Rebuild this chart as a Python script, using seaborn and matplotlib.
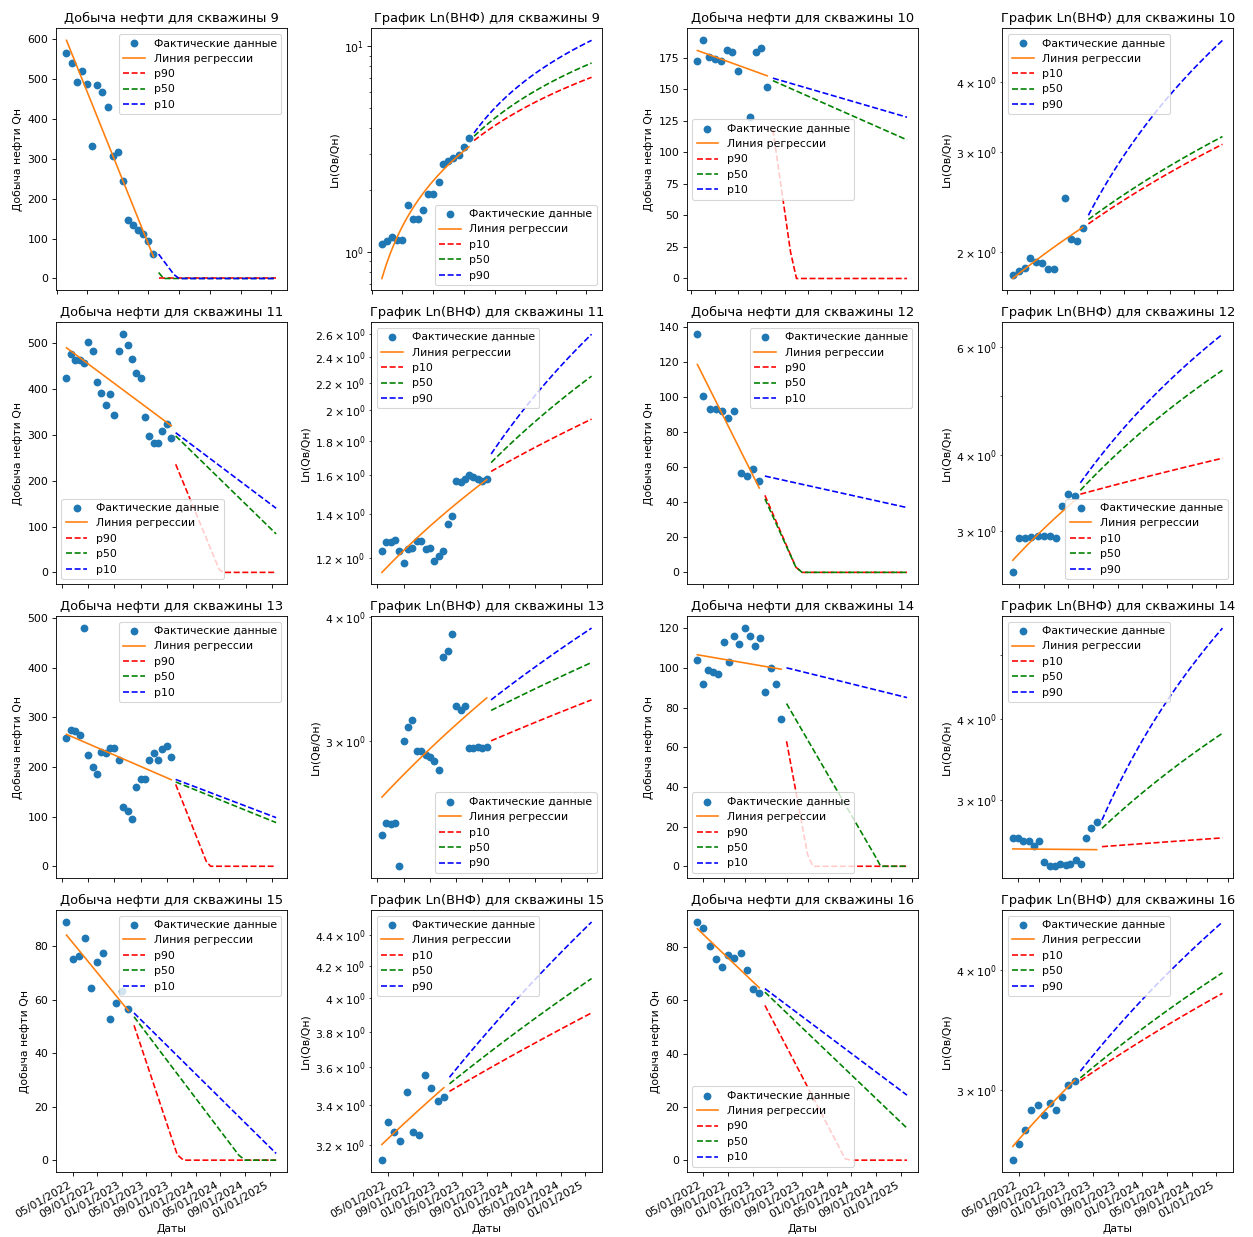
import numpy as np
import pandas as pd
import matplotlib
matplotlib.use("Agg")
import matplotlib.pyplot as plt
import matplotlib.dates as mdates
import seaborn as sns

NAN = np.nan

# ---------------- well 9 ----------------
start_09 = "2022-03-01"
oil_09 = [566, 541, 493, 520, 488, 331, 485, 468, 430, 306, 317, 245, 147, 134, 122, 111, 94, 61]
wor_09 = [1.086, 1.127, 1.18, 1.136, 1.136, 1.69, 1.44, 1.45, 1.59, 1.91, 1.91, 2.19, 2.66, 2.76, 2.86, 2.95, 3.23, 3.56]
oil_p90_09 = [(18, 0), (41, 0)]
oil_p50_09 = [(18, 15), (19, 0), (41, 0)]
oil_p10_09 = [(18, 61), (21, 10), (22, 0), (41, 0)]
wor_p10_09 = [3.48, 7.07]
wor_p50_09 = [3.65, 8.3]
wor_p90_09 = [3.79, 10.7]

# ---------------- well 10 ----------------
start_10 = "2022-06-01"
oil_10 = [173, 189, 176, 174, 173, 181, 180, 165, NAN, 128, 180, 183, 152]
wor_10 = [1.82, 1.85, 1.87, 1.95, 1.92, 1.91, 1.86, 1.86, NAN, 2.49, 2.11, 2.09, 2.20]
oil_p90_10 = [(13, 118), (16, 21), (17, 0), (36, 0)]
oil_p50_10 = [(13, 157), (36, 110)]
oil_p10_10 = [(13, 159), (36, 128)]
wor_p10_10 = [2.24, 3.10]
wor_p50_10 = [2.28, 3.20]
wor_p90_10 = [2.32, 4.74]

# ---------------- well 11 ----------------
start_11 = "2021-08-01"
oil_11 = [425, 476, 463, 463, 458, 504, 483, 416, 392, 366, 389, 344, 483, 520, 496, 467,
          435, 425, 339, 297, 283, 283, 309, 323, 293]
wor_11 = [1.23, 1.27, 1.27, 1.28, 1.23, 1.18, 1.24, 1.245, 1.275, 1.275, 1.24, 1.245, 1.19,
          1.21, 1.23, 1.35, 1.39, 1.57, 1.56, 1.58, 1.60, 1.59, 1.58, 1.57, 1.58]
oil_p90_11 = [(25, 236), (35, 6), (36, 0), (48, 0)]
oil_p50_11 = [(25, 298), (48, 84)]
oil_p10_11 = [(25, 305), (48, 140)]
wor_p10_11 = [1.62, 1.94]
wor_p50_11 = [1.67, 2.25]
wor_p90_11 = [1.72, 2.60]

# ---------------- well 12 ----------------
start_12 = "2022-04-01"
oil_12 = [136, 101, 93.5, 93.5, 92, 88, 92, 57, 55, 59, 52]
wor_12 = [2.57, 2.92, 2.93, 2.94, 2.95, 2.95, 2.95, 2.93, 3.30, 3.45, 3.42]
oil_p90_12 = [(11, 44), (16, 3), (17, 0), (34, 0)]
oil_p50_12 = [(11, 42), (16, 3), (17, 0), (34, 0)]
oil_p10_12 = [(11, 55), (34, 37)]
wor_p10_12 = [3.45, 3.95]
wor_p50_12 = [3.50, 5.50]
wor_p90_12 = [3.60, 6.30]

# ---------------- well 13 ----------------
start_13 = "2021-08-01"
oil_13 = [258, 275, 272, 265, 480, 225, 200, 185, 230, 228, 238, 238, 215, 120, 112, 96,
          160, 175, 175, 215, 228, 215, 237, 243, 220]
wor_13 = [2.41, 2.48, 2.47, 2.48, 2.24, 3.00, 3.10, 3.15, 2.93, 2.93, 2.90, 2.89, 2.86,
          2.80, 3.65, 3.70, 3.85, 3.25, 3.22, 3.25, 2.95, 2.95, 2.96, 2.95, 2.96]
oil_p90_13 = [(25, 165), (32, 10), (33, 0), (48, 0)]
oil_p50_13 = [(25, 170), (48, 88)]
oil_p10_13 = [(25, 175), (48, 98)]
wor_p10_13 = [3.00, 3.30]
wor_p50_13 = [3.22, 3.60]
wor_p90_13 = [3.30, 3.90]

# ---------------- well 14 ----------------
start_14 = "2022-04-01"
oil_14 = [104, 92, 99, 98, 97, 113, 103, 116, 112, 120, 116, 111, 115, 88, 100, 92, 74]
wor_14 = [2.63, 2.63, 2.60, 2.60, 2.56, 2.60, 2.42, 2.38, 2.38, 2.40, 2.39, 2.40, 2.43,
          2.40, 2.63, 2.72, 2.78]
oil_p90_14 = [(17, 63), (21, 6), (22, 0), (40, 0)]
oil_p50_14 = [(17, 82), (34, 4.5), (35, 0), (40, 0)]
oil_p10_14 = [(17, 100), (40, 85)]
wor_p10_14 = [2.55, 2.63]
wor_p50_14 = [2.72, 3.80]
wor_p90_14 = [2.80, 5.50]

# ---------------- well 15 ----------------
start_15 = "2022-04-01"
oil_15 = [89, 75.1, 76.4, 83.2, 64.2, 73.9, 77.3, 52.6, 58.9, 63.3, 56.4]
wor_15 = [3.125, 3.31, 3.26, 3.215, 3.465, 3.26, 3.245, 3.56, 3.49, 3.42, 3.44]
oil_p90_15 = [(11, 50.4), (18, 2), (19, 0), (34, 0)]
oil_p50_15 = [(11, 53.6), (28, 1.8), (29, 0), (34, 0)]
oil_p10_15 = [(11, 55), (34, 2.5)]
wor_p10_15 = [3.47, 3.91]
wor_p50_15 = [3.51, 4.12]
wor_p90_15 = [3.545, 4.49]

# ---------------- well 16 ----------------
start_16 = "2022-04-01"
oil_16 = [89.4, 87.3, 80.3, 75.4, 72.5, 77.1, 75.75, 77.9, 71.25, 64.4, 62.75]
wor_16 = [2.54, 2.64, 2.73, 2.86, 2.90, 2.83, 2.91, 2.865, 2.95, 3.04, 3.07]
oil_p90_16 = [(11, 58.1), (24, 0.5), (25, 0), (34, 0)]
oil_p50_16 = [(11, 63.1), (34, 12)]
oil_p10_16 = [(11, 64.4), (34, 24.4)]
wor_p10_16 = [3.07, 3.78]
wor_p50_16 = [3.09, 3.97]
wor_p90_16 = [3.14, 4.48]

WELLS = [
    (9, start_09, oil_09, wor_09, oil_p90_09, oil_p50_09, oil_p10_09, wor_p10_09, wor_p50_09, wor_p90_09),
    (10, start_10, oil_10, wor_10, oil_p90_10, oil_p50_10, oil_p10_10, wor_p10_10, wor_p50_10, wor_p90_10),
    (11, start_11, oil_11, wor_11, oil_p90_11, oil_p50_11, oil_p10_11, wor_p10_11, wor_p50_11, wor_p90_11),
    (12, start_12, oil_12, wor_12, oil_p90_12, oil_p50_12, oil_p10_12, wor_p10_12, wor_p50_12, wor_p90_12),
    (13, start_13, oil_13, wor_13, oil_p90_13, oil_p50_13, oil_p10_13, wor_p10_13, wor_p50_13, wor_p90_13),
    (14, start_14, oil_14, wor_14, oil_p90_14, oil_p50_14, oil_p10_14, wor_p10_14, wor_p50_14, wor_p90_14),
    (15, start_15, oil_15, wor_15, oil_p90_15, oil_p50_15, oil_p10_15, wor_p10_15, wor_p50_15, wor_p90_15),
    (16, start_16, oil_16, wor_16, oil_p90_16, oil_p50_16, oil_p10_16, wor_p10_16, wor_p50_16, wor_p90_16),
]

# legend positions (style)
OIL_LOC = ["upper right", "center left", "lower left", "upper right",
           "upper right", "lower left", "upper right", "lower left"]
WOR_LOC = ["lower right", "upper left", "upper left", "lower right",
           "lower right", "upper left", "upper left", "upper left"]

BLUE = "#1f77b4"
ORANGE = "#ff7f0e"
W, H, DPI = 1253, 1237, 78
MS = 52


def month_dates(start, months):
    base = pd.Timestamp(start)
    return mdates.date2num([base + pd.DateOffset(months=int(m)) for m in months])


def finish_legend(ax, loc):
    handles = [ax.collections[0]] + list(ax.get_lines())
    labels = [h.get_label() for h in handles]
    ax.legend(handles, labels, loc=loc)


fig, axes = plt.subplots(4, 4, figsize=(W / DPI, H / DPI), dpi=DPI)

for i, (well, start, oil, wor, o90, o50, o10, w10, w50, w90) in enumerate(WELLS):
    r, c = divmod(i, 2)
    ax_o = axes[r, 2 * c]
    ax_w = axes[r, 2 * c + 1]
    n = len(oil)
    x_obs = month_dates(start, range(n))
    x_fc = month_dates(start, [n, n + 23])

    # ---- oil production ----
    sns.scatterplot(x=x_obs, y=np.array(oil, float), ax=ax_o, color=BLUE, s=MS,
                    linewidth=0, label="Фактические данные", legend=False)
    sns.regplot(x=x_obs, y=np.array(oil, float), ax=ax_o, scatter=False, ci=None,
                color=ORANGE, label="Линия регрессии", line_kws=dict(lw=1.5))
    for fc, col, lab in [(o90, "r", "p90"), (o50, "g", "p50"), (o10, "b", "p10")]:
        sns.lineplot(x=month_dates(start, [m for m, v in fc]), y=[v for m, v in fc],
                     ax=ax_o, color=col, linestyle="--", lw=1.5, label=lab,
                     errorbar=None, sort=False, legend=False)
    ax_o.set_title(f"Добыча нефти для скважины {well}")
    ax_o.set_ylabel("Добыча нефти Qн")
    finish_legend(ax_o, OIL_LOC[i])

    # ---- water-oil ratio ----
    sns.scatterplot(x=x_obs, y=np.array(wor, float), ax=ax_w, color=BLUE, s=MS,
                    linewidth=0, label="Фактические данные", legend=False)
    sns.regplot(x=x_obs, y=np.array(wor, float), ax=ax_w, scatter=False, ci=None,
                color=ORANGE, label="Линия регрессии", line_kws=dict(lw=1.5))
    for fc, col, lab in [(w10, "r", "p10"), (w50, "g", "p50"), (w90, "b", "p90")]:
        sns.regplot(x=x_fc, y=np.array(fc, float), ax=ax_w, scatter=False, ci=None,
                    color=col, label=lab, line_kws=dict(lw=1.5, ls="--"))
    ax_w.set_yscale("log")
    ax_w.set_title(f"График Ln(ВНФ) для скважины {well}")
    ax_w.set_ylabel("Ln(Qв/Qн)")
    finish_legend(ax_w, WOR_LOC[i])

for ax in axes.flat:
    ax.xaxis.set_major_locator(mdates.AutoDateLocator())
    ax.xaxis.set_major_formatter(mdates.DateFormatter("%m/%d/%Y"))
    ax.set_xlabel("Даты")

fig.autofmt_xdate()
fig.subplots_adjust(left=0.0447, right=0.984, top=0.977, bottom=0.0525,
                    wspace=0.368, hspace=0.122)
fig.savefig("out.png", dpi=DPI)
